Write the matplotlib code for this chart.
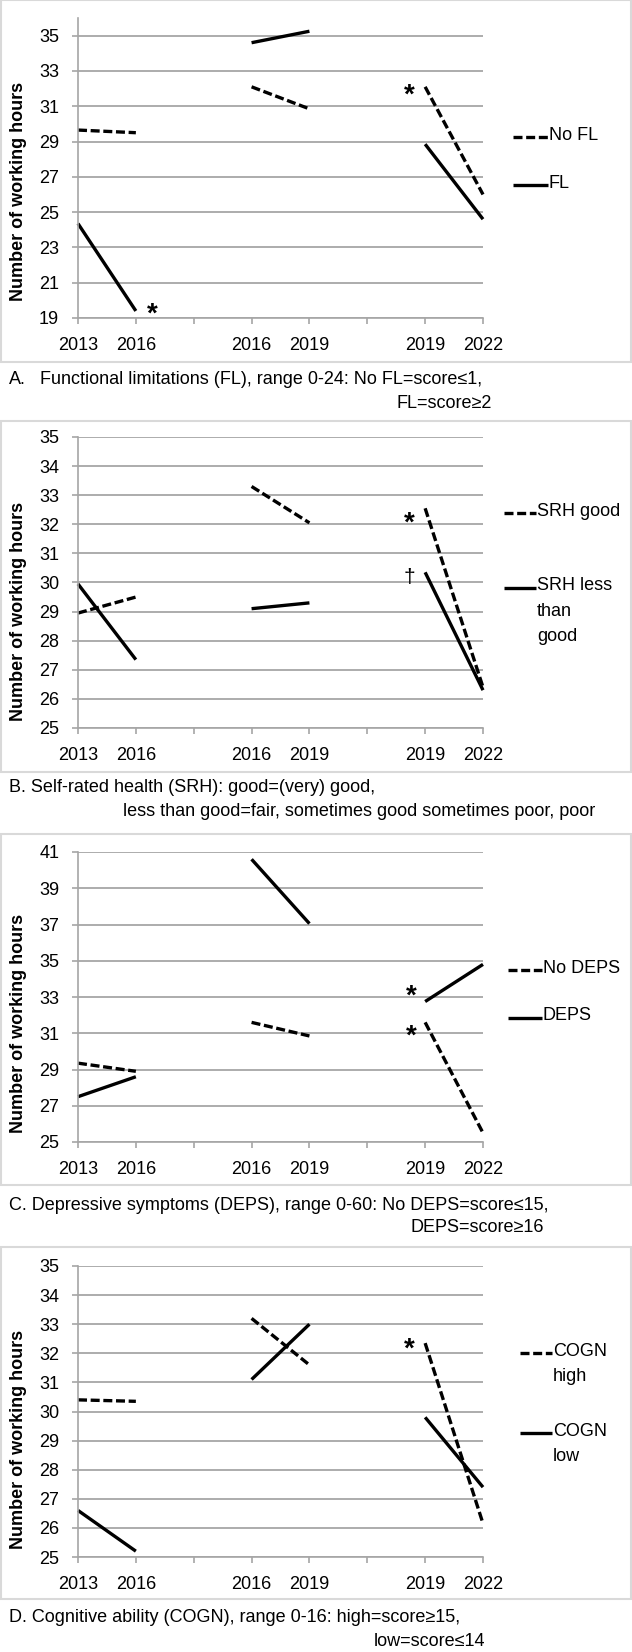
import numpy as np
import matplotlib
matplotlib.use("Agg")
import matplotlib.pyplot as plt
from matplotlib.lines import Line2D
from matplotlib.patches import Rectangle

plt.rcParams['font.family'] = ['Liberation Sans', 'DejaVu Sans']

W, H = 632, 1652

# category axis: two waves per segment, blank slot between segments
years = ['2013', '2016', '', '2016', '2019', '', '2019', '2022']

# A. functional limitations
nofl = [29.65, 29.5, 32.1, 30.85, 32.1, 26.0]
fl = [24.35, 19.4, 34.6, 35.25, 28.85, 24.6]

# B. self-rated health
srh_good = [28.95, 29.5, 33.3, 32.05, 32.55, 26.4]
srh_less = [29.95, 27.35, 29.1, 29.3, 30.35, 26.3]

# C. depressive symptoms
nodeps = [29.35, 28.9, 31.6, 30.85, 31.6, 25.5]
deps = [27.5, 28.6, 40.6, 37.05, 32.75, 34.8]

# D. cognitive ability
cogn_high = [30.4, 30.35, 33.2, 31.6, 32.35, 26.15]
cogn_low = [26.6, 25.2, 31.1, 33.0, 29.8, 27.4]

# significance marks (x in category units, y in hours)
marks_a = [('*', 1.28, 19.57), ('*', 5.72, 31.98)]
marks_b = [('*', 5.73, 32.25), ('\u2020', 5.72, 30.33)]
marks_c = [('*', 5.76, 33.39), ('*', 5.76, 31.18)]
marks_d = [('*', 5.73, 32.35)]

captions = [
    [("A.", 9, 380), ("Functional limitations (FL), range 0-24: No FL=score\u22641,", 40, 380),
     ("FL=score\u22652", 397, 403)],
    [("B. Self-rated health (SRH): good=(very) good,", 9, 788),
     ("less than good=fair, sometimes good sometimes poor, poor", 123, 812)],
    [("C. Depressive symptoms (DEPS), range 0-60: No DEPS=score\u226415,", 9, 1205),
     ("DEPS=score\u226516", 410, 1228)],
    [("D. Cognitive ability (COGN), range 0-16: high=score\u226515,", 9, 1618),
     ("low=score\u226414", 374, 1642)],
]

GRID = '#a6a6a6'
BOX = '#d9d9d9'
DASH = (2.7, 1.1)
LW = 2.4


def fx(px):
    return px / W


def fy(py):
    return 1 - py / H


def gapped(vals):
    return [vals[0], vals[1], np.nan, vals[2], vals[3], np.nan, vals[4], vals[5]]


fig = plt.figure(figsize=(W / 100, H / 100), dpi=100)

panels = [
    dict(box=(0, 362), ax=(18, 318), ylim=(19, 36), yt=np.arange(19, 36, 2),
         series=[(nofl, 'No FL', True), (fl, 'FL', False)],
         leg=dict(x0=513, x1=548, ys=[137, 185]), marks=marks_a, ylab=0.423),
    dict(box=(421, 772), ax=(437, 728), ylim=(25, 35), yt=np.arange(25, 36, 1),
         series=[(srh_good, 'SRH good', True), (srh_less, 'SRH less\nthan\ngood', False)],
         leg=dict(x0=504, x1=536, ys=[513, 588]), marks=marks_b, ylab=0.402),
    dict(box=(834, 1185), ax=(852, 1142), ylim=(25, 41), yt=np.arange(25, 42, 2),
         series=[(nodeps, 'No DEPS', True), (deps, 'DEPS', False)],
         leg=dict(x0=508, x1=542, ys=[970, 1018]), marks=marks_c, ylab=0.41),
    dict(box=(1247, 1599), ax=(1266, 1557), ylim=(25, 35), yt=np.arange(25, 36, 1),
         series=[(cogn_high, 'COGN\nhigh', True), (cogn_low, 'COGN\nlow', False)],
         leg=dict(x0=520, x1=552, ys=[1353, 1433]), marks=marks_d, ylab=0.405),
]

x = np.arange(len(years))
left_px, right_px = 78, 483

for i, p in enumerate(panels):
    bt, bb = p['box']
    fig.add_artist(Rectangle((fx(1), fy(bb)), fx(630), (bb - bt) / H,
                             transform=fig.transFigure, fill=False,
                             edgecolor=BOX, linewidth=1.5))
    at, ab = p['ax']
    ax = fig.add_axes([fx(left_px), fy(ab), (right_px - left_px) / W, (ab - at) / H])
    ax.set_xlim(0, 7)
    ax.set_ylim(*p['ylim'])
    ax.set_yticks(p['yt'])
    ax.set_xticks(x)
    ax.set_xticklabels(years)
    for s in ['top', 'right']:
        ax.spines[s].set_visible(False)
    for s in ['left', 'bottom']:
        ax.spines[s].set_color(GRID)
        ax.spines[s].set_linewidth(1.2)
    ax.grid(axis='y', color=GRID, linewidth=1.3)
    ax.set_axisbelow(True)
    ax.tick_params(axis='y', length=4.5, width=1.2, color=GRID, pad=9, labelsize=13)
    ax.tick_params(axis='x', length=4, width=1.2, color=GRID, pad=10, labelsize=13)
    ax.set_ylabel('Number of working hours', fontsize=13, fontweight='bold')
    ax.yaxis.set_label_coords((27 - left_px) / (right_px - left_px), p['ylab'])

    for vals, lab, dashed in p['series']:
        if dashed:
            ax.plot(x, gapped(vals), color='black', lw=LW, dashes=DASH,
                    dash_capstyle='butt', clip_on=False)
        else:
            ax.plot(x, gapped(vals), color='black', lw=LW,
                    solid_capstyle='butt', clip_on=False)

    for sym, mx, my in p['marks']:
        if sym == '*':
            ax.annotate(sym, (mx, my), xytext=(0, -5), textcoords='offset points',
                        fontsize=20, fontweight='bold', ha='center', va='center')
        else:
            ax.annotate(sym, (mx, my), xytext=(0, -3.5), textcoords='offset points',
                        fontsize=15, ha='center', va='center')

    # legend drawn in figure pixels so the key sits on the first text line
    lg = p['leg']
    for (vals, lab, dashed), ly in zip(p['series'], lg['ys']):
        kw = dict(dashes=DASH, dash_capstyle='butt') if dashed else dict(solid_capstyle='butt')
        fig.add_artist(Line2D([fx(lg['x0']), fx(lg['x1'])], [fy(ly), fy(ly)],
                              transform=fig.transFigure, color='black', lw=LW, **kw))
        fig.text(fx(lg['x1'] + 1), fy(ly - 10.5), lab, fontsize=13, ha='left', va='top',
                 linespacing=1.62)

    for txt, tx, ty in captions[i]:
        fig.text(fx(tx), fy(ty), txt, fontsize=13, ha='left', va='center')

fig.savefig('out.png', dpi=100)
